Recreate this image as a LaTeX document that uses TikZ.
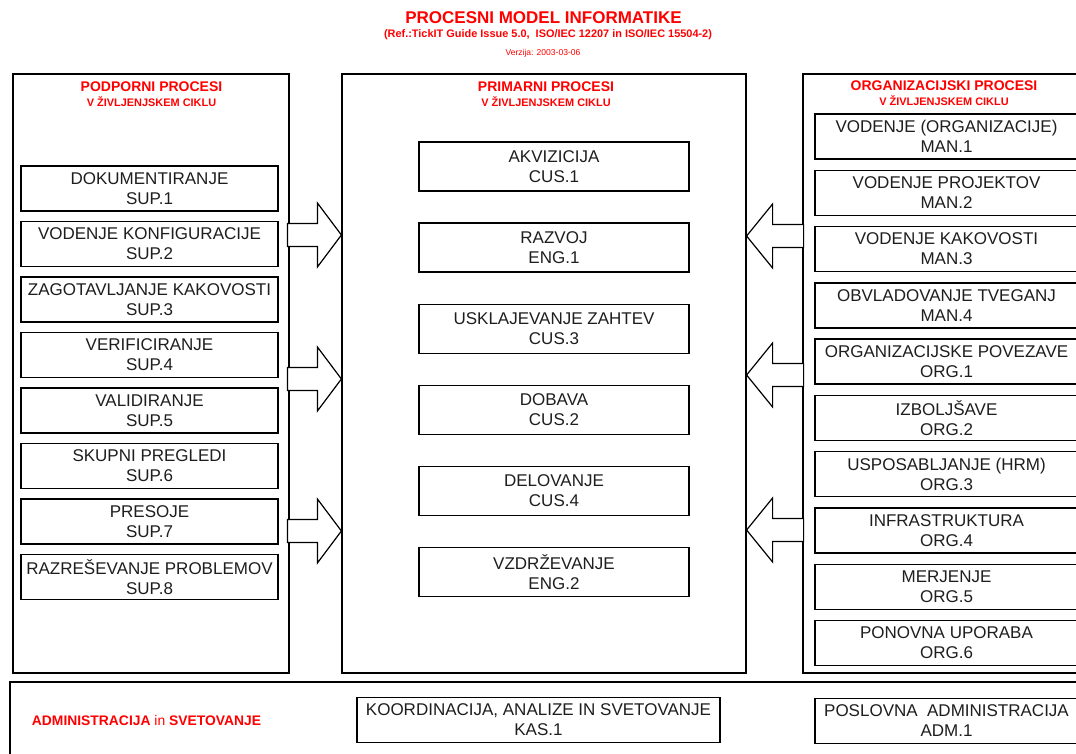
\documentclass[tikz,border=0pt]{standalone}
\usepackage{fontspec}
\setmainfont{Liberation Sans}
\usetikzlibrary{fit}

\definecolor{hdred}{RGB}{255,0,0}
\definecolor{ink}{RGB}{30,30,30}

\tikzset{
  panel/.style={draw=black, line width=0.9pt, inner sep=0pt},
  procbox/.style={draw=black, line width=1.0pt, fill=white, align=center, inner sep=0pt,
    text=ink, font=\fontsize{12.75}{15}\selectfont},
  lbox/.style={procbox, minimum width=192.75pt, minimum height=33.75pt},
  cbox/.style={procbox, minimum width=202.5pt, minimum height=36.75pt},
  rbox/.style={procbox, minimum width=197.25pt, minimum height=33.75pt},
  headline/.style={text=hdred, font=\bfseries\fontsize{10.5}{12}\selectfont, inner sep=0pt},
  subline/.style={text=hdred, font=\bfseries\fontsize{8.2}{10}\selectfont, inner sep=0pt},
  arrowline/.style={draw=black, line width=0.9pt, fill=white, line join=miter},
  % block arrow pointing right, tip at the pic origin
  rblock/.pic={\path[arrowline] (0,0) -- (-24,-32) -- (-24,-11.5) -- (-54,-11.5)
      -- (-54,11.5) -- (-24,11.5) -- (-24,32) -- cycle;},
  % block arrow pointing left, tip at the pic origin
  lblock/.pic={\path[arrowline] (0,0) -- (26,-32) -- (26,-11.5) -- (57,-11.5)
      -- (57,11.5) -- (26,11.5) -- (26,32) -- cycle;}
}

\begin{document}
\begin{tikzpicture}[x=0.75pt, y=-0.75pt]
\useasboundingbox (0,0) rectangle (1076,754);
\fill[white] (0,0) rectangle (1076,754);

% heading
\node[text=hdred, font=\bfseries\fontsize{12.75}{14}\selectfont, inner sep=0pt] (title) at (543.5,18) {PROCESNI MODEL INFORMATIKE};
\node[text=hdred, font=\bfseries\fontsize{8.2}{9}\selectfont, inner sep=0pt] (ref) at (548,35) {(Ref.:TickIT Guide Issue 5.0,\ \ ISO/IEC 12207 in ISO/IEC 15504-2)};
\node[text=hdred, font=\fontsize{6.4}{7}\selectfont, inner sep=0pt] (ver) at (543,53) {Verzija: 2003-03-06};

% three process panels
\node[panel, fit={(13,74) (289,673)}] (sup) {};
\node[panel, fit={(342,74) (746,673)}] (pri) {};
\node[panel, fit={(803,74) (1079,673)}] (org) {};
\node[panel, fit={(10,682) (1090,770)}] (adm) {};

% panel headings
\node[headline] (suph) at (151.5,87) {PODPORNI PROCESI};
\node[subline] (sups) at (151.5,102) {V ŽIVLJENJSKEM CIKLU};
\node[headline] (prih) at (546,87) {PRIMARNI PROCESI};
\node[subline] (pris) at (546,102) {V ŽIVLJENJSKEM CIKLU};
\node[headline] (orgh) at (944,86) {ORGANIZACIJSKI PROCESI};
\node[subline] (orgs) at (944,101) {V ŽIVLJENJSKEM CIKLU};

% supporting processes
\foreach \txt/\id [count=\i from 0] in {
  DOKUMENTIRANJE/SUP.1,
  VODENJE KONFIGURACIJE/SUP.2,
  ZAGOTAVLJANJE KAKOVOSTI/SUP.3,
  VERIFICIRANJE/SUP.4,
  VALIDIRANJE/SUP.5,
  SKUPNI PREGLEDI/SUP.6,
  PRESOJE/SUP.7,
  RAZREŠEVANJE PROBLEMOV/SUP.8}
  \node[lbox] (s\i) at (149.5,188.5+55.5*\i) {\txt\\\id};

% primary processes
\foreach \txt/\id [count=\i from 0] in {
  AKVIZICIJA/CUS.1,
  RAZVOJ/ENG.1,
  USKLAJEVANJE ZAHTEV/CUS.3,
  DOBAVA/CUS.2,
  DELOVANJE/CUS.4,
  VZDRŽEVANJE/ENG.2}
  \node[cbox] (p\i) at (554,166.5+81.1*\i) {\txt\\\id};

% organisational processes
\foreach \txt/\id [count=\i from 0] in {
  VODENJE (ORGANIZACIJE)/MAN.1,
  VODENJE PROJEKTOV/MAN.2,
  VODENJE KAKOVOSTI/MAN.3,
  OBVLADOVANJE TVEGANJ/MAN.4,
  ORGANIZACIJSKE POVEZAVE/ORG.1,
  IZBOLJŠAVE/ORG.2,
  USPOSABLJANJE (HRM)/ORG.3,
  INFRASTRUKTURA/ORG.4,
  MERJENJE/ORG.5,
  PONOVNA UPORABA/ORG.6}
  \node[rbox] (o\i) at (946.5,136.5+56.28*\i) {\txt\\\id};

% administration strip
\node[text=hdred, font=\bfseries\fontsize{10.4}{12}\selectfont, inner sep=0pt] (admh) at (146.5,721)
  {ADMINISTRACIJA {\mdseries in} SVETOVANJE};
\node[procbox, minimum width=272.25pt, minimum height=33.75pt] (kas) at (538.5,720)
  {KOORDINACIJA, ANALIZE IN SVETOVANJE\\KAS.1};
\node[rbox] (adm1) at (946.5,721) {POSLOVNA\ \ ADMINISTRACIJA\\ADM.1};

% block arrows into the primary processes
\foreach \yy in {235,379,531}
  \pic at (pri.west |- 0,\yy) {rblock};
\foreach \yy in {236,375,530}
  \pic at (pri.east |- 0,\yy) {lblock};
\end{tikzpicture}
\end{document}
